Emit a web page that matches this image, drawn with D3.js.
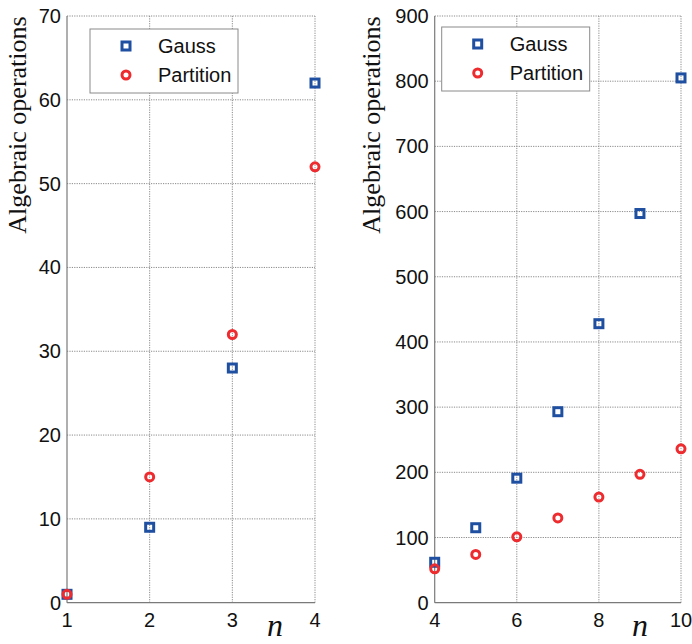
<!DOCTYPE html>
<html>
<head>
<meta charset="utf-8">
<script src="https://cdn.jsdelivr.net/npm/d3@7"></script>
<style>
    body { margin: 0; background: #ffffff; }
</style>
</head>
<body>
<div id="container"></div>
<script>
// data
const leftN = [1, 2, 3, 4];
const leftGauss = [1, 9, 28, 62];
const leftPartition = [1, 15, 32, 52];
const leftYTicks = [0, 10, 20, 30, 40, 50, 60, 70];
const leftXTicks = [1, 2, 3, 4];

const rightN = [4, 5, 6, 7, 8, 9, 10];
const rightGauss = [62, 115, 191, 293, 428, 597, 805];
const rightPartition = [52, 74, 101, 130, 162, 197, 236];
const rightYTicks = [0, 100, 200, 300, 400, 500, 600, 700, 800, 900];
const rightXTicks = [4, 6, 8, 10];

const seriesNames = ['Gauss', 'Partition'];

const blue = '#1f4fa0';
const red = '#ee2b2e';
const gridColor = '#8a8a8a';
const axisColor = '#7a7a7a';

const svg = d3.select('#container')
    .append('svg')
    .attr('width', 692)
    .attr('height', 644);

function drawPanel(opts) {
    const x = d3.scaleLinear().domain(opts.xDomain).range([opts.left, opts.right]);
    const y = d3.scaleLinear().domain(opts.yDomain).range([602.7, 16]);
    const g = svg.append('g');

    // dotted grid (also forms the top and right edges)
    g.selectAll('.vgrid')
        .data(opts.xTicks.filter(t => t !== opts.xDomain[0]))
        .enter().append('line')
        .attr('x1', d => x(d)).attr('x2', d => x(d))
        .attr('y1', y.range()[0]).attr('y2', y.range()[1])
        .attr('stroke', gridColor)
        .attr('stroke-width', 1)
        .attr('stroke-dasharray', '1.2,1.2');
    g.selectAll('.hgrid')
        .data(opts.yTicks.filter(t => t !== opts.yDomain[0]))
        .enter().append('line')
        .attr('x1', opts.left).attr('x2', opts.right)
        .attr('y1', d => y(d)).attr('y2', d => y(d))
        .attr('stroke', gridColor)
        .attr('stroke-width', 1)
        .attr('stroke-dasharray', '1.2,1.2');

    // solid left and bottom axes
    g.append('line')
        .attr('x1', opts.left).attr('x2', opts.left)
        .attr('y1', y.range()[0]).attr('y2', y.range()[1])
        .attr('stroke', axisColor).attr('stroke-width', 1.2);
    g.append('line')
        .attr('x1', opts.left).attr('x2', opts.right)
        .attr('y1', y.range()[0]).attr('y2', y.range()[0])
        .attr('stroke', axisColor).attr('stroke-width', 1.2);

    // tick labels
    g.selectAll('.ylab')
        .data(opts.yTicks)
        .enter().append('text')
        .attr('x', opts.left - 6)
        .attr('y', d => y(d) + 7)
        .attr('text-anchor', 'end')
        .style('font-family', 'Arial, "Liberation Sans", sans-serif')
        .style('font-size', '20px')
        .style('fill', '#111')
        .text(d => d);
    g.selectAll('.xlab')
        .data(opts.xTicks)
        .enter().append('text')
        .attr('x', d => x(d))
        .attr('y', 627)
        .attr('text-anchor', 'middle')
        .style('font-family', 'Arial, "Liberation Sans", sans-serif')
        .style('font-size', '20px')
        .style('fill', '#111')
        .text(d => d);

    // axis titles
    g.append('text')
        .attr('transform', `translate(${opts.titleX}, 125) rotate(-90)`)
        .attr('text-anchor', 'middle')
        .style('font-family', '"Times New Roman", "Liberation Serif", serif')
        .style('font-size', '26px')
        .style('fill', '#111')
        .text('Algebraic operations');
    g.append('text')
        .attr('x', opts.nX)
        .attr('y', 636)
        .attr('text-anchor', 'middle')
        .style('font-family', '"Times New Roman", "Liberation Serif", serif')
        .style('font-style', 'italic')
        .style('font-size', '32px')
        .style('fill', '#111')
        .text('n');

    // markers
    g.selectAll('.gauss')
        .data(opts.n.map((d, i) => [d, opts.gauss[i]]))
        .enter().append('rect')
        .attr('x', d => x(d[0]) - 4)
        .attr('y', d => y(d[1]) - 4)
        .attr('width', 8).attr('height', 8)
        .attr('fill', 'none')
        .attr('stroke', blue)
        .attr('stroke-width', 3);
    g.selectAll('.part')
        .data(opts.n.map((d, i) => [d, opts.partition[i]]))
        .enter().append('circle')
        .attr('cx', d => x(d[0]))
        .attr('cy', d => y(d[1]))
        .attr('r', 4)
        .attr('fill', 'none')
        .attr('stroke', red)
        .attr('stroke-width', 3);

    // legend
    const leg = g.append('g')
        .attr('transform', `translate(${opts.legX}, ${opts.legY})`);
    leg.append('rect')
        .attr('width', 148).attr('height', 64)
        .attr('fill', '#ffffff')
        .attr('stroke', '#8a8a8a')
        .attr('stroke-width', 1);
    leg.append('rect')
        .attr('x', 32).attr('y', 13)
        .attr('width', 8).attr('height', 8)
        .attr('fill', 'none')
        .attr('stroke', blue)
        .attr('stroke-width', 3);
    leg.append('circle')
        .attr('cx', 36).attr('cy', 46)
        .attr('r', 4)
        .attr('fill', 'none')
        .attr('stroke', red)
        .attr('stroke-width', 3);
    leg.selectAll('.legtext')
        .data(seriesNames)
        .enter().append('text')
        .attr('x', 68)
        .attr('y', (d, i) => 24 + i * 29)
        .style('font-family', 'Arial, "Liberation Sans", sans-serif')
        .style('font-size', '20px')
        .style('fill', '#111')
        .text(d => d);
}

drawPanel({
    left: 67, right: 315,
    xDomain: [1, 4], yDomain: [0, 70],
    xTicks: leftXTicks, yTicks: leftYTicks,
    n: leftN, gauss: leftGauss, partition: leftPartition,
    titleX: 26, nX: 275,
    legX: 90, legY: 29
});

drawPanel({
    left: 434.7, right: 681,
    xDomain: [4, 10], yDomain: [0, 900],
    xTicks: rightXTicks, yTicks: rightYTicks,
    n: rightN, gauss: rightGauss, partition: rightPartition,
    titleX: 380, nX: 640,
    legX: 441.7, legY: 27
});
</script>
</body>
</html>
